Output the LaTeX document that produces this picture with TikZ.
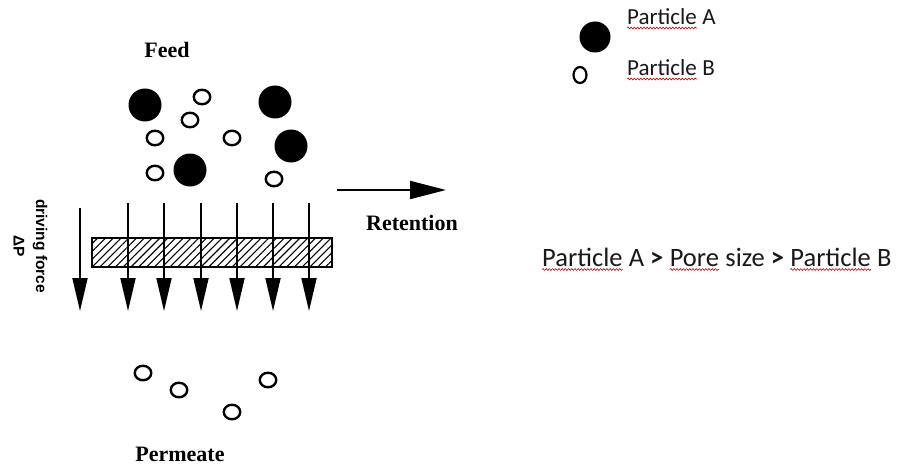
\documentclass[tikz,border=0pt]{standalone}
\usepackage{fontspec}
\setmainfont{Liberation Serif}
\setsansfont{Liberation Sans}
\newfontfamily\calibrifont{Carlito}
\usetikzlibrary{patterns.meta, arrows.meta, decorations.pathmorphing, shapes.geometric}

\tikzset{
  bigpart/.style={circle, fill=black, draw=none, minimum size=33pt, inner sep=0pt},
  smallpart/.style={ellipse, draw=black, line width=2.4pt, fill=white,
                    minimum width=16.5pt, minimum height=14.5pt, inner sep=0pt},
  flowarrow/.style={line width=1.8pt, -{Triangle[length=33pt, width=15pt]}},
  serifbold/.style={font=\fontsize{22}{24}\selectfont\bfseries, inner sep=0pt},
  forcetext/.style={rotate=-90, font=\sffamily\bfseries\fontsize{15.5}{17}\selectfont, inner sep=0pt},
  legendtext/.style={font=\calibrifont\fontsize{23}{25}\selectfont, inner sep=0pt, text=black!90, anchor=base west},
  bigtext/.style={font=\calibrifont\fontsize{26.5}{28}\selectfont, inner sep=0pt, text=black!90, anchor=base west},
  squiggle/.style={draw=red!80!black, line width=0.6pt,
                   decorate, decoration={snake, amplitude=0.9pt, segment length=3.2pt}},
}

\begin{document}
\begin{tikzpicture}[x=1pt, y=-1pt]
  \useasboundingbox (0,0) rectangle (899,468);
  \fill[white] (0,0) rectangle (899,468);

  % feed side
  \node[serifbold] (feed) at (167,50) {Feed};

  \node[bigpart] (a1) at (145,105) {};
  \node[bigpart] (a2) at (275,102) {};
  \node[bigpart] (a3) at (291,146) {};
  \node[bigpart] (a4) at (190,170) {};

  \node[smallpart] (b1) at (202,97) {};
  \node[smallpart] (b2) at (190,120) {};
  \node[smallpart] (b3) at (155,138) {};
  \node[smallpart] (b4) at (232,138) {};
  \node[smallpart] (b5) at (155,173) {};
  \node[smallpart] (b6) at (274,179) {};

  % membrane
  \node[draw=black, line width=1.5pt, minimum width=240pt, minimum height=29pt, inner sep=0pt,
        pattern={Lines[angle=45, distance=5.5pt, line width=1.1pt]}] (membrane) at (212,252.5) {};

  % flow arrows through the membrane
  \foreach \x [count=\i] in {128,164,201,237,273,309} {
    \coordinate (top\i) at (\x,203);
    \coordinate (bot\i) at (\x,311);
    \draw[flowarrow] (top\i) -- (bot\i);
  }

  % driving force
  \coordinate (dftop) at (80,208);
  \coordinate (dfbot) at (80,311);
  \draw[flowarrow] (dftop) -- (dfbot);
  \node[forcetext] (dflabel) at (40,246) {driving force};
  \node[forcetext] (dp) at (19,246) {ΔP};

  % retention
  \coordinate (retstart) at (337,190);
  \coordinate (retend) at (446,190);
  \draw[line width=2pt, -{Triangle[length=36pt, width=18pt]}] (retstart) -- (retend);
  \node[serifbold] (retention) at (412,223) {Retention};

  % permeate side
  \node[smallpart] (p1) at (143,373) {};
  \node[smallpart] (p2) at (179,390) {};
  \node[smallpart] (p3) at (268,380) {};
  \node[smallpart] (p4) at (232,412) {};
  \node[serifbold] (permeate) at (180,454) {Permeate};

  % legend
  \node[circle, fill=black, minimum size=31pt, inner sep=0pt] (legA) at (595,37) {};
  \node[ellipse, draw=black, line width=2.2pt, minimum width=13pt, minimum height=16pt, inner sep=0pt] (legB) at (580,75) {};
  \node[legendtext] (txtA) at (627,25) {Particle};
  \node[legendtext] (txtA2) at (txtA.base east) {\ A};
  \node[legendtext] (txtB) at (627,76) {Particle};
  \node[legendtext] (txtB2) at (txtB.base east) {\ B};
  \draw[squiggle] ([yshift=-3pt]txtA.base west) -- ([yshift=-3pt]txtA.base east);
  \draw[squiggle] ([yshift=-3pt]txtB.base west) -- ([yshift=-3pt]txtB.base east);

  % size relation
  \node[bigtext] (w1) at (542,266) {Particle};
  \node[bigtext] (w2) at (w1.base east) {\ A \textbf{>}\ \null};
  \node[bigtext] (w3) at (w2.base east) {Pore};
  \node[bigtext] (w4) at (w3.base east) {\ size \textbf{>}\ \null};
  \node[bigtext] (w5) at (w4.base east) {Particle};
  \node[bigtext] (w6) at (w5.base east) {\ B};
  \draw[squiggle] ([yshift=-3.5pt]w1.base west) -- ([yshift=-3.5pt]w1.base east);
  \draw[squiggle] ([yshift=-3.5pt]w3.base west) -- ([yshift=-3.5pt]w3.base east);
  \draw[squiggle] ([yshift=-3.5pt]w5.base west) -- ([yshift=-3.5pt]w5.base east);
\end{tikzpicture}
\end{document}
